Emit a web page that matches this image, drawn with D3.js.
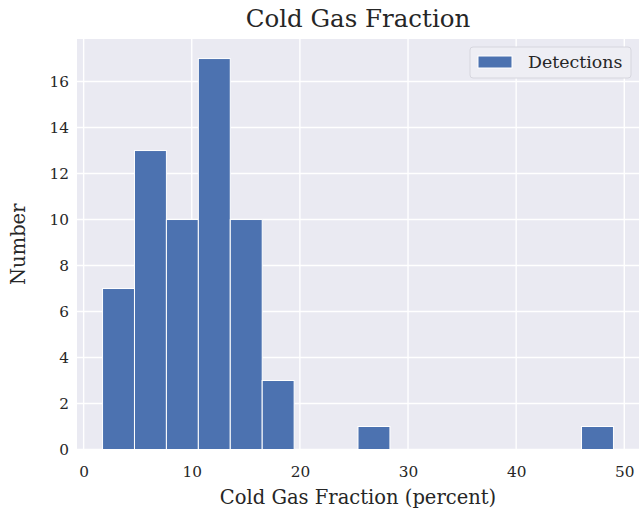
<!DOCTYPE html>
<html><head><meta charset="utf-8">
<script src="https://cdn.jsdelivr.net/npm/d3@7"></script>
<style>body{margin:0;background:#fff}svg{display:block}text{font-family:"DejaVu Serif",serif;fill:#262626}</style>
</head><body>
<svg id="c" width="640" height="513"></svg>
<script>
const binStart = 1.75;
const binWidth = 2.953;
const counts = [7,13,10,17,10,3,0,0,1,0,0,0,0,0,0,1];
const xTicks = [0,10,20,30,40,50];
const yTicks = [0,2,4,6,8,10,12,14,16];
const title = "Cold Gas Fraction";
const xLabel = "Cold Gas Fraction (percent)";
const yLabel = "Number";
const legendLabel = "Detections";

const bins = counts.map((c,i)=>({x0: binStart+i*binWidth, x1: binStart+(i+1)*binWidth, n: c}));
const lo = bins[0].x0, hi = bins[bins.length-1].x1, span = hi-lo;
const L=77, R=639, T=39, B=449.5;
const x = d3.scaleLinear().domain([lo-0.05*span, hi+0.05*span]).range([L,R]);
const y = d3.scaleLinear().domain([0, d3.max(counts)*1.05]).range([B,T]);
const svg = d3.select("#c");
svg.append("rect").attr("x",L).attr("y",T).attr("width",R-L).attr("height",B-T).attr("fill","#EAEAF2");
const g = svg.append("g");
g.selectAll(".gx").data(xTicks).join("line").attr("x1",d=>x(d)).attr("x2",d=>x(d)).attr("y1",T).attr("y2",B).attr("stroke","#fff").attr("stroke-width",1.4);
g.selectAll(".gy").data(yTicks).join("line").attr("y1",d=>y(d)).attr("y2",d=>y(d)).attr("x1",L).attr("x2",R).attr("stroke","#fff").attr("stroke-width",1.4);
svg.append("g").selectAll("rect").data(bins.filter(b=>b.n>0)).join("rect")
  .attr("x",d=>x(d.x0)).attr("width",d=>x(d.x1)-x(d.x0))
  .attr("y",d=>y(d.n)).attr("height",d=>y(0)-y(d.n))
  .attr("fill","#4C72B0").attr("stroke","#fff").attr("stroke-width",1);
// axes
const xa = d3.axisBottom(x).tickValues(xTicks).tickSize(0).tickPadding(17);
svg.append("g").attr("transform",`translate(0,${B})`).call(xa).call(s=>{s.select(".domain").remove();s.selectAll("text").attr("font-size","15.3px").attr("fill","#262626").attr("font-family","DejaVu Serif");});
const ya = d3.axisLeft(y).tickValues(yTicks).tickSize(0).tickPadding(8);
svg.append("g").attr("transform",`translate(${L},0)`).call(ya).call(s=>{s.select(".domain").remove();s.selectAll("text").attr("font-size","15.3px").attr("fill","#262626").attr("font-family","DejaVu Serif");});
svg.append("text").attr("x",(L+R)/2).attr("y",27).attr("text-anchor","middle").attr("font-size","24.5px").text(title);
svg.append("text").attr("x",(L+R)/2).attr("y",503.5).attr("text-anchor","middle").attr("font-size","19.5px").text(xLabel);
svg.append("text").attr("transform",`translate(25,${(T+B)/2}) rotate(-90)`).attr("text-anchor","middle").attr("font-size","19.5px").text(yLabel);
// legend
const lg = svg.append("g");
lg.append("rect").attr("x",470).attr("y",47).attr("width",161).attr("height",31).attr("rx",3).attr("fill","#EEEEF4").attr("stroke","#d6d6de");
lg.append("rect").attr("x",478).attr("y",56).attr("width",34).attr("height",12).attr("fill","#4C72B0").attr("stroke","#fff");
lg.append("text").attr("x",528).attr("y",67.5).attr("font-size","17.4px").text(legendLabel);
</script>
</body></html>
